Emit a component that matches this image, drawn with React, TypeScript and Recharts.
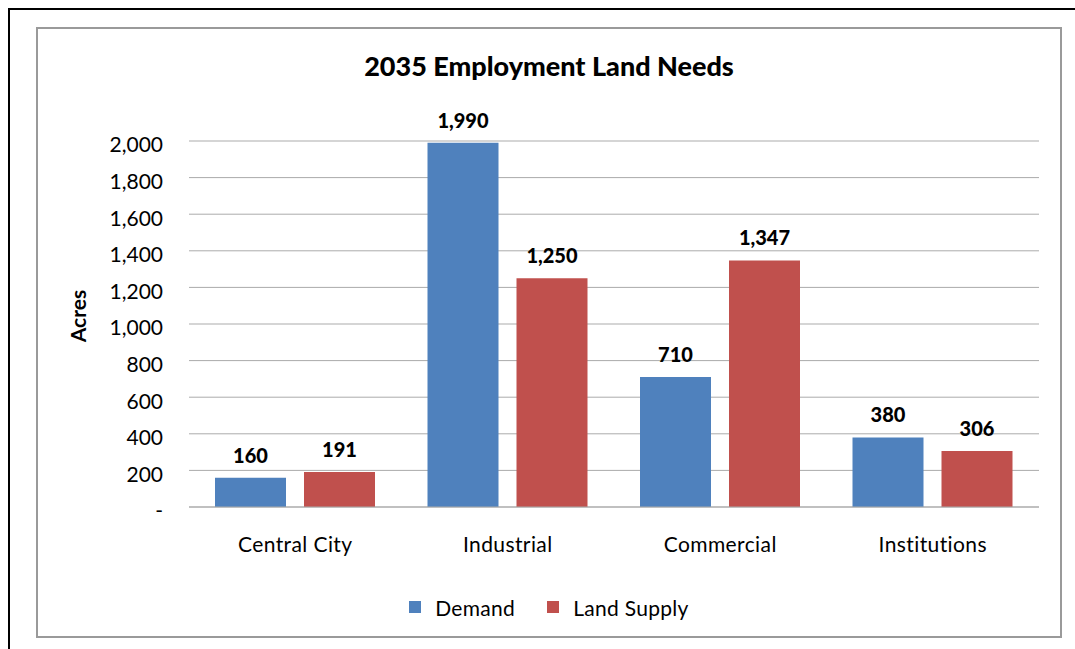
import React from 'react';
import { BarChart, Bar, XAxis, YAxis, CartesianGrid, LabelList, Legend } from 'recharts';

const categories = ['Central City', 'Industrial', 'Commercial', 'Institutions'];
const demand = [160, 1990, 710, 380];
const landSupply = [191, 1250, 1347, 306];
const yTicks = [0, 200, 400, 600, 800, 1000, 1200, 1400, 1600, 1800, 2000];
const seriesNames = ['Demand', 'Land Supply'];
const seriesColors = ['#4F81BD', '#C0504D'];
const title = '2035 Employment Land Needs';
const yTitle = 'Acres';

const data = categories.map((c, i) => ({ category: c, demand: demand[i], supply: landSupply[i] }));

const FONT = 'Lato, "Open Sans", sans-serif';

const fmt = (v: number) => (v === 0 ? '-' : v.toLocaleString('en-US'));

const LegendContent = (props: any) => {
  const payload = props.payload || [];
  return (
    <div style={{ display: 'flex', justifyContent: 'center', alignItems: 'center', height: 24, fontFamily: FONT, fontSize: 21, color: '#000', letterSpacing: 0.3 }}>
      {payload.map((p: any, i: number) => (
        <div key={i} style={{ display: 'flex', alignItems: 'center', marginLeft: i === 0 ? 0 : 32 }}>
          <div style={{ width: 12, height: 12, background: p.color, marginRight: 14 }} />
          <span>{p.value}</span>
        </div>
      ))}
    </div>
  );
};

export default function App() {
  return (
    <div style={{ position: 'fixed', left: 8, top: 8, width: 1067, height: 641, borderTop: '2px solid #000', borderLeft: '2px solid #000', background: '#fff' }}>
      <div style={{ position: 'absolute', left: 26, top: 17, width: 1026, height: 611, boxSizing: 'border-box', border: '2px solid #9a9a9a', background: '#fff' }}>
        <div style={{ position: 'absolute', left: 0, top: 23, width: '100%', textAlign: 'center', fontFamily: FONT, fontWeight: 900, fontSize: 27, lineHeight: '27px', color: '#000' }}>
          {title}
        </div>
        <div style={{ position: 'absolute', left: 39, top: 287, transform: 'translate(-50%, -50%) rotate(-90deg)', fontFamily: FONT, fontWeight: 700, fontSize: 21, lineHeight: '21px', color: '#000', whiteSpace: 'nowrap' }}>
          {yTitle}
        </div>
        <BarChart
          width={1022}
          height={607}
          data={data}
          margin={{ top: 112, right: 21, bottom: 99, left: 0 }}
          barSize={71}
          barGap={18}
          style={{ fontFamily: FONT }}
        >
          <CartesianGrid vertical={false} stroke="#ababab" strokeWidth={1} />
          <XAxis
            dataKey="category"
            height={30}
            axisLine={{ stroke: '#ababab' }}
            tickLine={false}
            tickMargin={24}
            tick={{ fill: '#000', fontSize: 21, fontFamily: FONT, letterSpacing: 0.4 }}
            interval={0}
          />
          <YAxis
            width={151}
            domain={[0, 2000]}
            ticks={yTicks}
            axisLine={false}
            tickLine={false}
            tickMargin={20}
            tickFormatter={fmt}
            tick={{ fill: '#000', fontSize: 21, fontFamily: FONT, dy: 4 }}
          />
          <Legend
            layout="horizontal"
            verticalAlign="middle"
            align="center"
            wrapperStyle={{ top: 566, left: 0, width: 1022 }}
            content={<LegendContent />}
          />
          <Bar dataKey="demand" name={seriesNames[0]} fill={seriesColors[0]} isAnimationActive={false}>
            <LabelList dataKey="demand" position="top" offset={15} formatter={(v: any) => fmt(Number(v))} style={{ fill: '#000', fontWeight: 900, fontSize: 20, fontFamily: FONT }} />
          </Bar>
          <Bar dataKey="supply" name={seriesNames[1]} fill={seriesColors[1]} isAnimationActive={false}>
            <LabelList dataKey="supply" position="top" offset={15} formatter={(v: any) => fmt(Number(v))} style={{ fill: '#000', fontWeight: 900, fontSize: 20, fontFamily: FONT }} />
          </Bar>
        </BarChart>
      </div>
    </div>
  );
}
